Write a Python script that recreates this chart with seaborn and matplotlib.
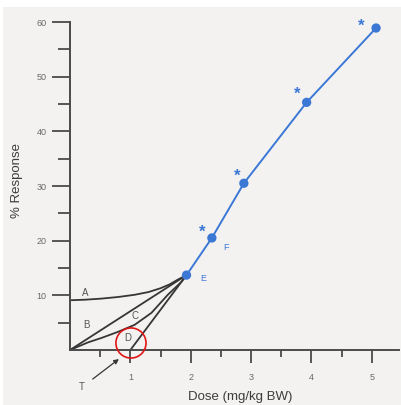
import matplotlib
matplotlib.use("Agg")
import matplotlib.pyplot as plt
from matplotlib.patches import Rectangle
import numpy as np
import pandas as pd
import seaborn as sns

# dose-response points (blue curve), E is the first one
dose = [1.93, 2.35, 2.88, 3.92, 5.07]
response = [13.7, 20.5, 30.5, 45.3, 58.9]
starred = [False, True, True, True, True]

# black low-dose curves ending at E
curve_a_x = [0.0, 0.25, 0.52, 0.8, 1.07, 1.3, 1.5, 1.65, 1.79, 1.93]
curve_a_y = [9.1, 9.2, 9.4, 9.7, 10.1, 10.6, 11.3, 12.0, 12.9, 13.7]
curve_b_x = [0.0, 1.93]
curve_b_y = [0.0, 13.7]
curve_c_x = [0.0, 0.3, 0.52, 0.79, 1.07, 1.35, 1.62, 1.84, 1.93]
curve_c_y = [0.0, 1.4, 2.2, 3.3, 4.6, 6.8, 10.1, 12.4, 13.7]
curve_d_x = [1.0, 1.93]
curve_d_y = [0.0, 13.7]

x_ticks = [1, 2, 3, 4, 5]
y_ticks = [10, 20, 30, 40, 50, 60]

sns.set_theme(style="ticks")
plt.rcParams['font.family'] = ['Liberation Sans', 'DejaVu Sans']

bg = '#f3f2f1'
fig = plt.figure(figsize=(4.02, 4.05), dpi=100, facecolor='white')
fig.patches.append(Rectangle((3/402, 0), 1, 1 - 7/405, transform=fig.transFigure,
                             facecolor=bg, edgecolor='none', zorder=-10))
ax = fig.add_axes([70/402, 55/405, 329/402, 328/405])
ax.set_facecolor('none')

ink = '#363636'
for cx, cy in [(curve_a_x, curve_a_y), (curve_b_x, curve_b_y),
               (curve_c_x, curve_c_y), (curve_d_x, curve_d_y)]:
    sns.lineplot(x=cx, y=cy, ax=ax, color=ink, lw=1.3, sort=False, estimator=None)

blue = '#3b78d6'
df = pd.DataFrame({'dose': dose, 'response': response})
sns.lineplot(data=df, x='dose', y='response', ax=ax, color=blue, lw=1.4,
             sort=False, estimator=None)
sns.scatterplot(data=df, x='dose', y='response', ax=ax, color=blue, s=45,
                edgecolor='none', zorder=5)

star_off = [(0, 0), (-7, 4), (-5, 5), (-7, 6), (-11, 1)]
for xv, yv, st, off in zip(dose, response, starred, star_off):
    if st:
        ax.annotate('*', (xv, yv), xytext=off, textcoords='offset points',
                    color=blue, fontsize=12, fontweight='bold',
                    ha='center', va='center')

lab_col = '#555555'
ax.text(0.25, 10.4, 'A', color=lab_col, fontsize=7, ha='center', va='center')
ax.text(0.28, 4.6, 'B', color=lab_col, fontsize=7, ha='center', va='center')
ax.text(1.08, 6.2, 'C', color=lab_col, fontsize=7, ha='center', va='center')
ax.text(0.96, 2.2, 'D', color=lab_col, fontsize=7, ha='center', va='center')
ax.text(2.2, 13.0, 'E', color=blue, fontsize=6.5, ha='center', va='center')
ax.text(2.58, 18.8, 'F', color=blue, fontsize=6.5, ha='center', va='center')

# red circle around threshold
ax.scatter([1.01], [1.28], s=470, facecolors='none', edgecolors='#e01515',
           linewidths=1.2, zorder=6, clip_on=False)

ax.annotate('T', xy=(0.81, -1.65), xytext=(0.2, -6.8), color=lab_col,
            fontsize=7, ha='center', va='center', annotation_clip=False,
            arrowprops=dict(arrowstyle='-|>', color=ink, lw=0.9,
                            mutation_scale=7, shrinkA=4, shrinkB=0))

ax.set_xlim(0, 5.45)
ax.set_ylim(0, 60)
ax.set_xticks(x_ticks)
ax.set_xticks(np.arange(0.5, 5.5, 1.0), minor=True)
ax.set_yticks(y_ticks)
ax.set_yticks(np.arange(5, 60, 10), minor=True)
ax.set_xticklabels([str(t) for t in x_ticks])
ax.set_yticklabels([str(t) for t in y_ticks])

axis_col = '#4a4a4a'
for s in ['left', 'bottom']:
    ax.spines[s].set_color(axis_col)
    ax.spines[s].set_linewidth(1.4)
sns.despine(ax=ax)
ax.tick_params(axis='y', which='major', length=13, width=1.3, color=axis_col,
               labelsize=6.5, labelcolor='#6a6a6a', pad=4)
ax.tick_params(axis='y', which='minor', length=8.5, width=1.3, color=axis_col)
ax.tick_params(axis='x', which='major', length=9.5, width=1.3, color=axis_col,
               labelsize=6.5, labelcolor='#6a6a6a', pad=7)
ax.tick_params(axis='x', which='minor', length=5, width=1.3, color=axis_col)

ax.set_xlabel('Dose (mg/kg BW)', fontsize=9.5, color='#3c3c3c')
ax.set_ylabel('% Response', fontsize=9.5, color='#3c3c3c')
ax.xaxis.set_label_coords(0.517, -0.125)
ax.yaxis.set_label_coords(-0.143, 0.518)

fig.savefig('out.png', dpi=100, facecolor=fig.get_facecolor())
